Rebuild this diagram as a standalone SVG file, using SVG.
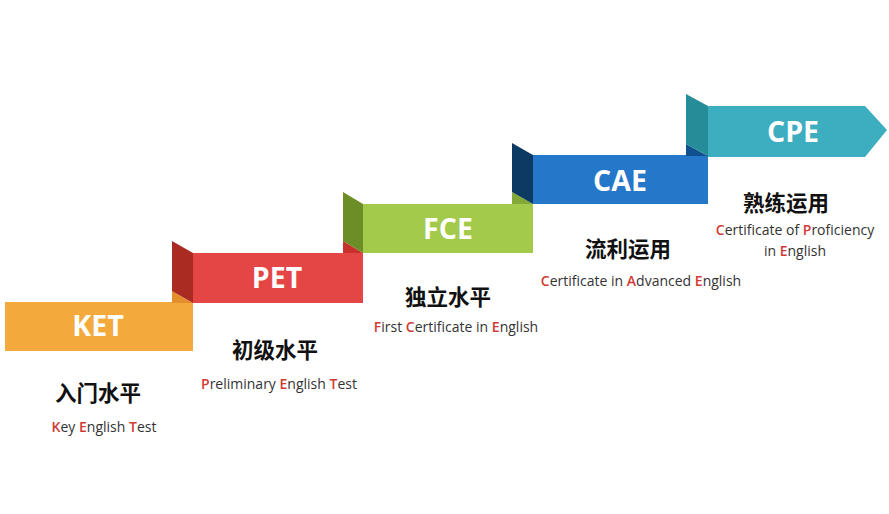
<svg xmlns="http://www.w3.org/2000/svg" width="889" height="514" viewBox="0 0 889 514">
<style>
.lbl{font-family:"Open Sans","Liberation Sans",sans-serif;font-weight:bold;font-size:28.5px;fill:#ffffff;text-anchor:middle}
.cn{font-family:"Noto Sans CJK SC",sans-serif;font-weight:bold;font-size:21.5px;fill:#111111;text-anchor:middle}
.en{font-family:"Open Sans","Liberation Sans",sans-serif;font-size:14px;fill:#333333;text-anchor:middle}
.r{fill:#D23A35;font-weight:600}
</style>
<rect width="889" height="514" fill="#ffffff"/>
<g id="KET">
<rect x="5" y="302" width="188" height="49" fill="#F3A93C"/>
<text class="lbl" x="98" y="336">KET</text>
<text class="cn" x="98" y="401">入门水平</text>
<text class="en" x="104" y="432"><tspan class="r">K</tspan>ey <tspan class="r">E</tspan>nglish <tspan class="r">T</tspan>est</text>
</g>
<g id="PET">
<polygon points="172,291 193,303 172,303" fill="#E38F2C"/>
<polygon points="172,241 193,253 193,303 172,291" fill="#A92B22"/>
<rect x="193" y="253" width="170" height="50" fill="#E44545"/>
<text class="lbl" x="277" y="288">PET</text>
<text class="cn" x="275" y="358">初级水平</text>
<text class="en" x="279" y="389"><tspan class="r">P</tspan>reliminary <tspan class="r">E</tspan>nglish <tspan class="r">T</tspan>est</text>
</g>
<g id="FCE">
<polygon points="343,241 363,253 343,253" fill="#C8302C"/>
<polygon points="343,192 363,204 363,253 343,241" fill="#6D8E26"/>
<rect x="363" y="204" width="170" height="49" fill="#A3CA4A"/>
<text class="lbl" x="448" y="239">FCE</text>
<text class="cn" x="448" y="305">独立水平</text>
<text class="en" x="456" y="332"><tspan class="r">F</tspan>irst <tspan class="r">C</tspan>ertificate in <tspan class="r">E</tspan>nglish</text>
</g>
<g id="CAE">
<polygon points="512,192 533,204 512,204" fill="#84A936"/>
<polygon points="512,143 533,155 533,204 512,192" fill="#0D3A63"/>
<rect x="533" y="155" width="175" height="49" fill="#2477C9"/>
<text class="lbl" x="620" y="191">CAE</text>
<text class="cn" x="628" y="257">流利运用</text>
<text class="en" x="641" y="286"><tspan class="r">C</tspan>ertificate in <tspan class="r">A</tspan>dvanced <tspan class="r">E</tspan>nglish</text>
</g>
<g id="CPE">
<polygon points="686,144 708,156 686,156" fill="#11508F"/>
<polygon points="686,94 708,106 708,156 686,144" fill="#268C98"/>
<polygon points="708,106 865,106 887,130 865,157 708,157" fill="#3DADC0"/>
<text class="lbl" x="793" y="142">CPE</text>
<text class="cn" x="786" y="211">熟练运用</text>
<text class="en" x="795" y="235"><tspan class="r">C</tspan>ertificate of <tspan class="r">P</tspan>roficiency</text>
<text class="en" x="795" y="256">in <tspan class="r">E</tspan>nglish</text>
</g>
<g id="connectors"></g>
</svg>
